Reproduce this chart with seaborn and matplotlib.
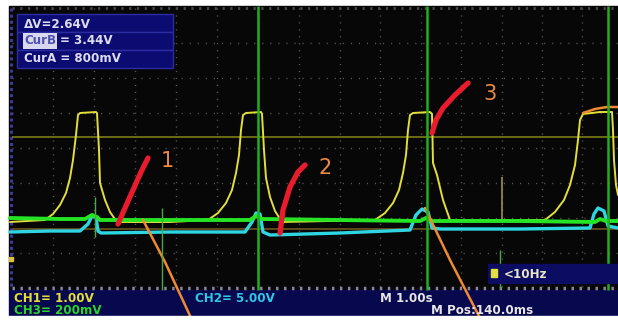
import matplotlib
matplotlib.use('Agg')
import matplotlib.pyplot as plt
import matplotlib.patches as patches
import seaborn as sns
import pandas as pd

# CH1 (yellow) - four pulses
ch1_x = [10, 45, 53, 60, 66, 70, 73, 76, 78, 80, 96, 97, 99, 100, 105, 110, 117,
         170, 208, 218, 226, 232, 236, 239, 241, 243, 246, 261, 262, 264, 266, 270, 275, 282,
         375, 385, 393, 399, 403, 406, 408, 410, 413, 430, 432, 433, 437, 443, 450,
         545, 555, 564, 570, 575, 578, 580, 583, 600, 612, 613, 614, 616, 618]
ch1_y = [222, 220, 214, 205, 193, 178, 160, 135, 115, 113, 112, 113, 150, 183, 200, 212, 222,
         222, 220, 213, 203, 190, 173, 155, 130, 115, 113, 112, 114, 150, 178, 197, 211, 222,
         220, 213, 203, 190, 173, 155, 130, 115, 113, 112, 114, 163, 175, 200, 220,
         220, 212, 200, 185, 165, 140, 120, 114, 112, 112, 130, 160, 185, 195]

# CH3 (green)
ch3_x = [10, 60, 85, 92, 97, 100, 180, 250, 256, 262, 340, 420, 426, 432, 520, 595, 600, 606, 618]
ch3_y = [218, 219, 219, 215, 217, 220, 220, 220, 216, 219, 220, 221, 218, 221, 221, 222, 219, 221, 221]

# CH2 (cyan)
ch2_x = [10, 50, 80, 88, 92, 96, 98, 101, 170, 245, 252, 256, 260, 263, 270, 340,
         410, 416, 422, 428, 432, 440, 520, 590, 594, 598, 604, 608, 618]
ch2_y = [232, 231, 231, 224, 216, 217, 231, 233, 232, 232, 222, 213, 214, 232, 235, 233,
         230, 215, 209, 212, 228, 229, 229, 228, 214, 208, 211, 226, 228]

# full height CH3 spikes and short marks
spike_x = [258, 427, 608]
short_x = [95, 162, 500]
short_top = [197, 208, 250]
short_bot = [237, 290, 288]

# cursors
cursor_y = [137, 229]
cursor_col = ['#7c7c18', '#6e5420']

# dotted graticule
grid_x = [53, 94, 135, 176, 217, 258, 299, 340, 380, 421, 461, 502, 542, 582]
grid_y = [43, 78, 113, 148, 183, 218, 253]

# hand drawn marks
red1_x = [118, 125, 133, 141, 148]
red1_y = [224, 208, 190, 172, 158]
red2_x = [280, 283, 290, 298, 305]
red2_y = [233, 210, 187, 172, 165]
red3_x = [432, 436, 443, 455, 468]
red3_y = [133, 120, 108, 95, 83]
org1_x = [143, 165, 192]
org1_y = [220, 262, 320]
org2_x = [425, 450, 481]
org2_y = [208, 260, 320]
org3_x = [583, 595, 607, 618]
org3_y = [113, 109, 107, 107]
labels = ['1', '2', '3']
label_x = [167, 325, 490]
label_y = [161, 168, 94]


def trace(ax, xs, ys, color, lw, cap='round'):
    df = pd.DataFrame({'x': xs, 'y': ys})
    sns.lineplot(data=df, x='x', y='y', ax=ax, color=color, linewidth=lw,
                 sort=False, estimator=None, legend=False,
                 solid_capstyle=cap, solid_joinstyle='round')


fig = plt.figure(figsize=(6.18, 3.2), dpi=100, facecolor='white')
ax = fig.add_axes([0, 0, 1, 1])
ax.set_xlim(0, 618)
ax.set_ylim(320, 0)
ax.axis('off')

# screen and status bar
ax.add_patch(patches.Rectangle((9, 6), 609, 284, color='#070707', zorder=0))
ax.add_patch(patches.Rectangle((9, 290), 609, 26, color='#08084e', zorder=0))

# graticule
ax.vlines(grid_x, 8, 288, colors='#5a5a5a', linewidth=1.0, linestyles=(0, (0.8, 4.2)), zorder=1)
ax.hlines(grid_y, 12, 618, colors='#5a5a5a', linewidth=1.0, linestyles=(0, (0.8, 5.0)), zorder=1)
ax.hlines([8], 12, 618, colors='#4a4a4a', linewidth=2.0, linestyles=(0, (0.8, 2.0)), zorder=1)
ax.hlines([288], 12, 618, colors='#8888a0', linewidth=2.5, linestyles=(0, (0.7, 1.6)), zorder=1)
ax.vlines([11], 8, 288, colors='#3a3a9a', linewidth=2.2, linestyles=(0, (1.0, 1.0)), zorder=1)
ax.plot([11], [259], marker='s', markersize=3, color='#e0c040', zorder=2)

# cursors
for cy, cc in zip(cursor_y, cursor_col):
    ax.hlines(cy, 12, 618, colors=cc, linewidth=1.2, zorder=2)
ax.vlines([502], 177, 223, colors='#8a7a50', linewidth=1.4, zorder=2)

# spikes
ax.vlines(spike_x, 6, 290, colors='#1fb01f', linewidth=1.8, zorder=3)
ax.vlines(short_x, short_top, short_bot, colors='#4aa84a', linewidth=1.0, zorder=3)

# traces
trace(ax, ch1_x, ch1_y, '#e2de3a', 1.4)
trace(ax, ch2_x, ch2_y, '#2ed6e2', 2.4)
trace(ax, ch3_x, ch3_y, '#24e424', 2.8)

# annotations
for xs, ys in [(red1_x, red1_y), (red2_x, red2_y), (red3_x, red3_y)]:
    trace(ax, xs, ys, '#e81c2c', 3.8)
for xs, ys in [(org1_x, org1_y), (org2_x, org2_y), (org3_x, org3_y)]:
    trace(ax, xs, ys, '#f08a30', 1.8)
for t, lx, ly in zip(labels, label_x, label_y):
    ax.text(lx, ly, t, color='#ec8a44', fontsize=15, ha='center', va='center')

# cursor readout box
for top in [14, 32, 50]:
    ax.add_patch(patches.Rectangle((17, top), 156, 18, facecolor='#0b0b72',
                                   edgecolor='#2c2ca0', linewidth=1.0, zorder=4))
txt = dict(color='#dcdcf2', fontsize=8.6, fontweight='bold', va='center', zorder=5)
ax.text(24, 24, 'ΔV=2.64V', **txt)
ax.text(24, 41, 'CurB', color='#5050b0', fontsize=8.6, fontweight='bold', va='center', zorder=6,
        bbox=dict(boxstyle='square,pad=0.1', facecolor='#d8d8ee', edgecolor='none'))
ax.text(60, 41, '= 3.44V', **txt)
ax.text(24, 59, 'CurA = 800mV', **txt)

# trigger freq band
ax.add_patch(patches.Rectangle((488, 264), 130, 19, color='#0c0c62', zorder=4))
ax.add_patch(patches.Rectangle((491, 269), 6, 8, color='#e0e040', zorder=5))
ax.text(504, 274, '<10Hz', color='#e6e6c8', fontsize=8.6, fontweight='bold', va='center', zorder=5)

# status bar
bar = dict(fontsize=8.6, fontweight='bold', va='center', zorder=5)
ax.text(14, 298, 'CH1= 1.00V', color='#e2de3a', **bar)
ax.text(14, 311, 'CH3= 200mV', color='#2ad42a', **bar)
ax.text(195, 298, 'CH2= 5.00V', color='#2ec8e6', **bar)
ax.text(380, 298, 'M 1.00s', color='#e6e6e6', **bar)
ax.text(431, 311, 'M Pos:140.0ms', color='#e6e6e6', **bar)

# white strip at the bottom over the bar
ax.add_patch(patches.Rectangle((0, 316), 618, 4, color='white', zorder=7))

fig.savefig('out.png', dpi=100, facecolor='white')
